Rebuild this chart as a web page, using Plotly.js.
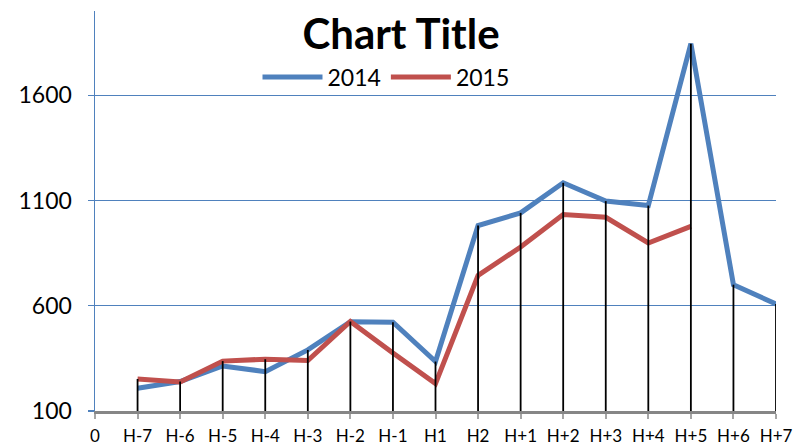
<!DOCTYPE html>
<html>
<head>
<meta charset="utf-8">
<script src="https://cdn.plot.ly/plotly-3.0.1.min.js"></script>
<style>html,body{margin:0;padding:0;background:#fff;}#chart{width:794px;height:448px;}</style>
</head>
<body>
<div id="chart"></div>
<script>
const categories = ['0','H-7','H-6','H-5','H-4','H-3','H-2','H-1','H1','H2','H+1','H+2','H+3','H+4','H+5','H+6','H+7'];
const dataCategories = ['H-7','H-6','H-5','H-4','H-3','H-2','H-1','H1','H2','H+1','H+2','H+3','H+4','H+5','H+6','H+7'];
const series2014 = [208, 240, 314, 287, 390, 524, 522, 335, 981, 1041, 1184, 1097, 1076, 1845, 700, 608];
const series2015 = [252, 238, 337, 346, 340, 525, 375, 230, 744, 879, 1033, 1020, 898, 977, null, null];
const yTicks = [100, 600, 1100, 1600];
const axisBase = 100;

// drop lines from the highest value at each category down to the category axis
const dropX = [], dropY = [];
dataCategories.forEach((c, i) => {
  const vals = [series2014[i], series2015[i]].filter(v => v != null);
  const top = Math.max(...vals);
  dropX.push(c, c, null);
  dropY.push(axisBase, top, null);
});

const font = 'Lato, "Open Sans", sans-serif';
const traces = [
  {x: dataCategories, y: series2014, name: '2014', type: 'scatter', mode: 'lines',
   line: {color: '#4f81bd', width: 5, shape: 'linear'}, connectgaps: false, hoverinfo: 'skip'},
  {x: dataCategories, y: series2015, name: '2015', type: 'scatter', mode: 'lines',
   line: {color: '#c0504d', width: 5, shape: 'linear'}, connectgaps: false, hoverinfo: 'skip'},
  {x: dropX, y: dropY, type: 'scatter', mode: 'lines', showlegend: false,
   line: {color: '#000000', width: 1.8}, connectgaps: false, hoverinfo: 'skip'}
];

const layout = {
  width: 794, height: 448,
  margin: {l: 95, r: 18, t: 11, b: 37, pad: 0},
  paper_bgcolor: '#ffffff', plot_bgcolor: '#ffffff',
  font: {family: font, color: '#000000'},
  title: {text: '<b>Chart Title</b>', font: {family: font, size: 42, color: '#000000'},
          x: 401/794, xanchor: 'center', xref: 'container', y: 1 - 34/448, yref: 'container', yanchor: 'middle'},
  showlegend: true,
  legend: {orientation: 'h', x: (386-95)/681, xanchor: 'center', y: 1 - 66/400, yanchor: 'middle',
           font: {family: font, size: 23, color: '#000000'}, bgcolor: 'rgba(0,0,0,0)', itemwidth: 60, tracegroupgap: 0},
  xaxis: {
    type: 'category', categoryorder: 'array', categoryarray: categories,
    range: [0, categories.length - 1],
    showgrid: false, zeroline: false,
    showline: true, linecolor: '#868686', linewidth: 2.5,
    ticks: 'outside', ticklen: 5, tickwidth: 2, tickcolor: '#a6a6a6',
    tickfont: {family: font, size: 17, color: '#000000'},
    ticklabelstandoff: 3, fixedrange: true
  },
  yaxis: {
    range: [100, 2000],
    tickmode: 'array', tickvals: yTicks, ticktext: yTicks.map(String),
    showgrid: true, gridcolor: '#4f81bd', gridwidth: 1.3,
    zeroline: false,
    showline: true, linecolor: '#4f81bd', linewidth: 1.5,
    ticks: 'outside', ticklen: 6, tickwidth: 1.3, tickcolor: '#4f81bd',
    tickfont: {family: font, size: 23, color: '#000000'},
    ticklabelstandoff: 11, fixedrange: true
  }
};

Plotly.newPlot('chart', traces, layout, {displayModeBar: false, staticPlot: true});
</script>
</body>
</html>
